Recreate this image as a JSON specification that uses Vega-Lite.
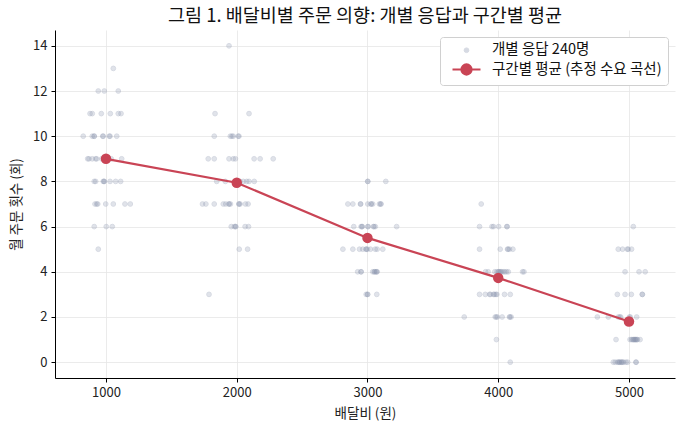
{
  "$schema": "https://vega.github.io/schema/vega-lite/v6.json",
  "autosize": "none",
  "width": 620,
  "height": 348,
  "padding": {"left": 55, "top": 30, "right": 9, "bottom": 52},
  "title": {"text": "그림 1. 배달비별 주문 의향: 개별 응답과 구간별 평균", "fontSize": 18.5, "fontWeight": "normal", "color": "#111111", "offset": 5},
  "config": {
    "font": "Noto Sans CJK KR",
    "view": {"stroke": null},
    "axis": {
      "domainColor": "#000000", "tickColor": "#000000", "tickSize": 4, "labelFontSize": 13, "labelColor": "#222222",
      "titleFontSize": 13.5, "titleFontWeight": "normal", "titleColor": "#222222",
      "gridColor": "#e6e6e6", "gridWidth": 0.8
    }
  },
  "datasets": {
    "resp": [
      {"fee": 1056, "orders": 13},
      {"fee": 941, "orders": 12}, {"fee": 987, "orders": 12}, {"fee": 1094, "orders": 12},
      {"fee": 878, "orders": 11}, {"fee": 895, "orders": 11}, {"fee": 964, "orders": 11}, {"fee": 1033, "orders": 11}, {"fee": 1094, "orders": 11}, {"fee": 1115, "orders": 11},
      {"fee": 826, "orders": 10}, {"fee": 895, "orders": 10}, {"fee": 910, "orders": 10}, {"fee": 975, "orders": 10}, {"fee": 979, "orders": 10}, {"fee": 1025, "orders": 10}, {"fee": 1031, "orders": 10}, {"fee": 1082, "orders": 10}, {"fee": 910, "orders": 10},
      {"fee": 860, "orders": 9}, {"fee": 870, "orders": 9}, {"fee": 895, "orders": 9}, {"fee": 921, "orders": 9}, {"fee": 929, "orders": 9}, {"fee": 967, "orders": 9}, {"fee": 1120, "orders": 9}, {"fee": 1000, "orders": 9}, {"fee": 1010, "orders": 9}, {"fee": 1040, "orders": 9},
      {"fee": 910, "orders": 8}, {"fee": 921, "orders": 8}, {"fee": 979, "orders": 8}, {"fee": 987, "orders": 8}, {"fee": 1031, "orders": 8}, {"fee": 1074, "orders": 8}, {"fee": 1112, "orders": 8}, {"fee": 985, "orders": 8},
      {"fee": 916, "orders": 7}, {"fee": 929, "orders": 7}, {"fee": 937, "orders": 7}, {"fee": 998, "orders": 7}, {"fee": 1056, "orders": 7}, {"fee": 1145, "orders": 7}, {"fee": 1186, "orders": 7},
      {"fee": 910, "orders": 6}, {"fee": 1002, "orders": 6}, {"fee": 1048, "orders": 6},
      {"fee": 941, "orders": 5},

      {"fee": 1941, "orders": 14},
      {"fee": 1834, "orders": 11}, {"fee": 2094, "orders": 11},
      {"fee": 1828, "orders": 10}, {"fee": 1951, "orders": 10}, {"fee": 1963, "orders": 10}, {"fee": 1973, "orders": 10}, {"fee": 2011, "orders": 10}, {"fee": 2017, "orders": 10},
      {"fee": 1782, "orders": 9}, {"fee": 1828, "orders": 9}, {"fee": 1941, "orders": 9}, {"fee": 1973, "orders": 9}, {"fee": 1990, "orders": 9}, {"fee": 2133, "orders": 9}, {"fee": 2179, "orders": 9}, {"fee": 2279, "orders": 9},
      {"fee": 1847, "orders": 8}, {"fee": 1913, "orders": 8}, {"fee": 2025, "orders": 8}, {"fee": 2050, "orders": 8}, {"fee": 2076, "orders": 8}, {"fee": 2094, "orders": 8}, {"fee": 2134, "orders": 8}, {"fee": 1990, "orders": 8}, {"fee": 2005, "orders": 8},
      {"fee": 1738, "orders": 7}, {"fee": 1764, "orders": 7}, {"fee": 1828, "orders": 7}, {"fee": 1897, "orders": 7}, {"fee": 1916, "orders": 7}, {"fee": 1941, "orders": 7}, {"fee": 1952, "orders": 7}, {"fee": 2017, "orders": 7}, {"fee": 2026, "orders": 7}, {"fee": 2067, "orders": 7}, {"fee": 2087, "orders": 7}, {"fee": 1941, "orders": 7}, {"fee": 2017, "orders": 7},
      {"fee": 1958, "orders": 6}, {"fee": 1982, "orders": 6}, {"fee": 1993, "orders": 6}, {"fee": 2064, "orders": 6}, {"fee": 2090, "orders": 6}, {"fee": 1990, "orders": 6},
      {"fee": 2019, "orders": 5}, {"fee": 2083, "orders": 5},
      {"fee": 1788, "orders": 3},

      {"fee": 3002, "orders": 8}, {"fee": 3140, "orders": 8}, {"fee": 3002, "orders": 8},
      {"fee": 2850, "orders": 7}, {"fee": 2888, "orders": 7}, {"fee": 2947, "orders": 7}, {"fee": 3002, "orders": 7}, {"fee": 3028, "orders": 7}, {"fee": 3040, "orders": 7}, {"fee": 3091, "orders": 7}, {"fee": 3104, "orders": 7}, {"fee": 2947, "orders": 7}, {"fee": 3028, "orders": 7}, {"fee": 3100, "orders": 7},
      {"fee": 2895, "orders": 6}, {"fee": 2951, "orders": 6}, {"fee": 2959, "orders": 6}, {"fee": 3002, "orders": 6}, {"fee": 3045, "orders": 6}, {"fee": 3060, "orders": 6}, {"fee": 3223, "orders": 6}, {"fee": 2959, "orders": 6}, {"fee": 3005, "orders": 6}, {"fee": 3050, "orders": 6},
      {"fee": 2812, "orders": 5}, {"fee": 2888, "orders": 5}, {"fee": 2939, "orders": 5}, {"fee": 2964, "orders": 5}, {"fee": 2990, "orders": 5}, {"fee": 3023, "orders": 5}, {"fee": 3059, "orders": 5}, {"fee": 3074, "orders": 5}, {"fee": 3117, "orders": 5}, {"fee": 2990, "orders": 5}, {"fee": 3000, "orders": 5},
      {"fee": 2925, "orders": 4}, {"fee": 2951, "orders": 4}, {"fee": 3040, "orders": 4}, {"fee": 3052, "orders": 4}, {"fee": 3065, "orders": 4}, {"fee": 3074, "orders": 4}, {"fee": 2951, "orders": 4}, {"fee": 3055, "orders": 4}, {"fee": 3070, "orders": 4},
      {"fee": 2990, "orders": 3}, {"fee": 3002, "orders": 3}, {"fee": 3071, "orders": 3}, {"fee": 3000, "orders": 3},

      {"fee": 3870, "orders": 7},
      {"fee": 3857, "orders": 6}, {"fee": 3952, "orders": 6}, {"fee": 3964, "orders": 6}, {"fee": 4003, "orders": 6}, {"fee": 4067, "orders": 6}, {"fee": 4067, "orders": 6},
      {"fee": 3857, "orders": 5}, {"fee": 4015, "orders": 5}, {"fee": 4071, "orders": 5}, {"fee": 4086, "orders": 5}, {"fee": 4112, "orders": 5}, {"fee": 4075, "orders": 5},
      {"fee": 3903, "orders": 4}, {"fee": 3923, "orders": 4}, {"fee": 3974, "orders": 4}, {"fee": 4000, "orders": 4}, {"fee": 4012, "orders": 4}, {"fee": 4025, "orders": 4}, {"fee": 4038, "orders": 4}, {"fee": 4063, "orders": 4}, {"fee": 4077, "orders": 4}, {"fee": 4186, "orders": 4}, {"fee": 3990, "orders": 4}, {"fee": 4005, "orders": 4}, {"fee": 4020, "orders": 4}, {"fee": 4050, "orders": 4}, {"fee": 4197, "orders": 4},
      {"fee": 3857, "orders": 3}, {"fee": 3901, "orders": 3}, {"fee": 3934, "orders": 3}, {"fee": 3964, "orders": 3}, {"fee": 3982, "orders": 3}, {"fee": 4048, "orders": 3}, {"fee": 4092, "orders": 3}, {"fee": 3940, "orders": 3}, {"fee": 3970, "orders": 3}, {"fee": 3990, "orders": 3},
      {"fee": 3740, "orders": 2}, {"fee": 3977, "orders": 2}, {"fee": 3994, "orders": 2}, {"fee": 4030, "orders": 2}, {"fee": 4086, "orders": 2}, {"fee": 4099, "orders": 2}, {"fee": 3985, "orders": 2}, {"fee": 4090, "orders": 2},
      {"fee": 3986, "orders": 1},
      {"fee": 4092, "orders": 0},

      {"fee": 5033, "orders": 6},
      {"fee": 4918, "orders": 5}, {"fee": 4951, "orders": 5}, {"fee": 4987, "orders": 5}, {"fee": 4994, "orders": 5}, {"fee": 5020, "orders": 5},
      {"fee": 4970, "orders": 4}, {"fee": 5077, "orders": 4}, {"fee": 5124, "orders": 4},
      {"fee": 4911, "orders": 3}, {"fee": 4970, "orders": 3}, {"fee": 5018, "orders": 3}, {"fee": 5102, "orders": 3}, {"fee": 5102, "orders": 3},
      {"fee": 4758, "orders": 2}, {"fee": 4842, "orders": 2}, {"fee": 4918, "orders": 2}, {"fee": 4937, "orders": 2}, {"fee": 5003, "orders": 2}, {"fee": 5059, "orders": 2}, {"fee": 4930, "orders": 2}, {"fee": 5010, "orders": 2},
      {"fee": 4901, "orders": 1}, {"fee": 5008, "orders": 1}, {"fee": 5033, "orders": 1}, {"fee": 5054, "orders": 1}, {"fee": 5085, "orders": 1}, {"fee": 5020, "orders": 1}, {"fee": 5040, "orders": 1}, {"fee": 5050, "orders": 1}, {"fee": 5060, "orders": 1}, {"fee": 5030, "orders": 1}, {"fee": 5045, "orders": 1}, {"fee": 5065, "orders": 1},
      {"fee": 4880, "orders": 0}, {"fee": 4911, "orders": 0}, {"fee": 4931, "orders": 0}, {"fee": 4951, "orders": 0}, {"fee": 4977, "orders": 0}, {"fee": 5054, "orders": 0}, {"fee": 4895, "orders": 0}, {"fee": 4920, "orders": 0}, {"fee": 4940, "orders": 0}, {"fee": 4960, "orders": 0}, {"fee": 4990, "orders": 0}, {"fee": 4925, "orders": 0}, {"fee": 4945, "orders": 0}, {"fee": 5054, "orders": 0}
    ],
    "means": [
      {"fee": 1000, "orders": 9.0},
      {"fee": 2000, "orders": 7.94},
      {"fee": 3000, "orders": 5.5},
      {"fee": 4000, "orders": 3.73},
      {"fee": 5000, "orders": 1.8}
    ]
  },
  "encoding": {
    "x": {
      "field": "fee", "type": "quantitative", "title": "배달비 (원)",
      "scale": {"domain": [610, 5352], "nice": false, "zero": false},
      "axis": {"values": [1000, 2000, 3000, 4000, 5000], "format": "d", "labelPadding": 4, "titlePadding": 7, "grid": true}
    },
    "y": {
      "field": "orders", "type": "quantitative", "title": "월 주문 횟수 (회)",
      "scale": {"domain": [-0.7, 14.7], "nice": false, "zero": false},
      "axis": {"values": [0, 2, 4, 6, 8, 10, 12, 14], "labelPadding": 4, "titlePadding": 9, "grid": true}
    }
  },
  "layer": [
    {
      "data": {"name": "resp"},
      "mark": {"type": "point", "filled": true, "fillOpacity": 0.75, "stroke": "#8a94ae", "strokeOpacity": 1},
      "encoding": {
        "color": {
          "datum": "개별 응답 240명",
          "scale": {"domain": ["개별 응답 240명", "구간별 평균 (추정 수요 곡선)"], "range": ["#8a94ae", "#c94455"]},
          "legend": {
            "title": null, "orient": "top-right", "offset": 7,
            "fillColor": "white", "strokeColor": "#d0d0d0", "cornerRadius": 3, "padding": 6,
            "labelFontSize": 14.5, "labelColor": "#111111", "labelOffset": 17, "labelLimit": 400,
            "symbolOffset": 12, "rowPadding": 3
          }
        },
        "shape": {
          "datum": "개별 응답 240명",
          "scale": {"domain": ["개별 응답 240명", "구간별 평균 (추정 수요 곡선)"], "range": ["circle", "M-2,0L2,0M-0.72,0A0.72,0.72 0 1,0 0.72,0A0.72,0.72 0 1,0 -0.72,0Z"]}
        },
        "size": {
          "datum": "개별 응답 240명",
          "scale": {"type": "ordinal", "domain": ["개별 응답 240명", "구간별 평균 (추정 수요 곡선)"], "range": [22, 196]}
        },
        "opacity": {
          "datum": "개별 응답 240명",
          "scale": {"type": "ordinal", "domain": ["개별 응답 240명", "구간별 평균 (추정 수요 곡선)"], "range": [0.34, 1]}
        },
        "strokeWidth": {
          "datum": "개별 응답 240명",
          "scale": {"type": "ordinal", "domain": ["개별 응답 240명", "구간별 평균 (추정 수요 곡선)"], "range": [1, 2.2]}
        }
      }
    },
    {
      "data": {"name": "means"},
      "mark": {"type": "line", "strokeWidth": 2.2, "point": {"filled": true, "size": 110, "opacity": 1}},
      "encoding": {
        "color": {"datum": "구간별 평균 (추정 수요 곡선)"}
      }
    }
  ]
}
